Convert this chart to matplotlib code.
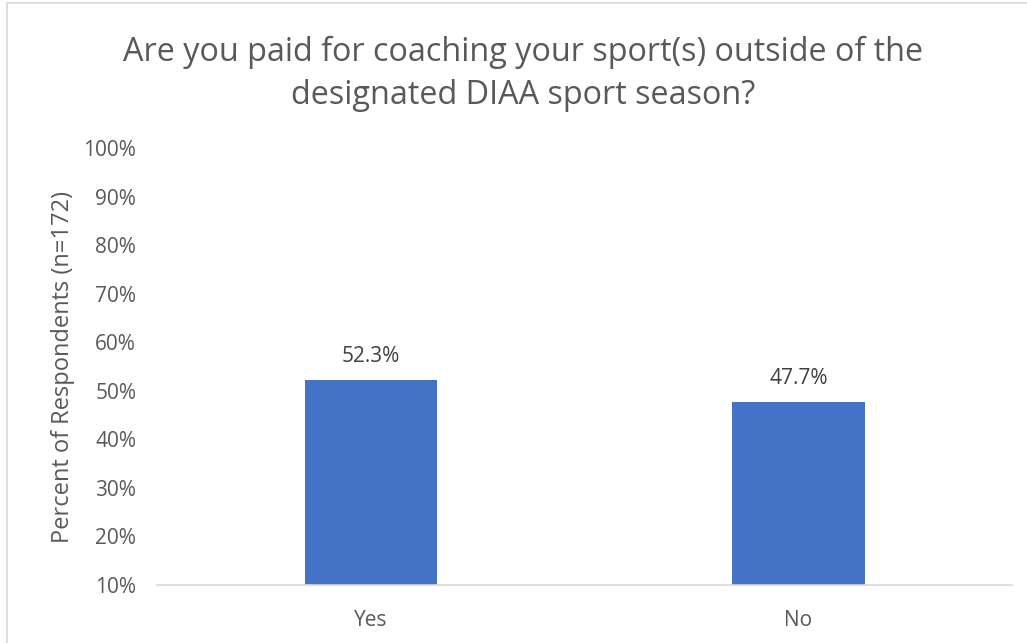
import matplotlib
matplotlib.use("Agg")
import matplotlib.pyplot as plt
from matplotlib.patches import Rectangle

###data###
categories = ["Yes", "No"]
percents = [52.3, 47.7]
yticks = [10, 20, 30, 40, 50, 60, 70, 80, 90, 100]
title = "Are you paid for coaching your sport(s) outside of the\ndesignated DIAA sport season?"
ylabel = "Percent of Respondents (n=172)"

plt.rcParams['font.family'] = ['Open Sans', 'DejaVu Sans']
grey = '#595959'

fig = plt.figure(figsize=(10.27, 6.43), dpi=100)
ax = fig.add_axes([0.1529, 0.0902, 0.8325, 0.6796])

x = range(len(categories))
ax.bar(x, percents, width=0.31, bottom=0, color='#4472C4', zorder=2)
for xi, v in zip(x, percents):
    ax.text(xi, v + 2.6, f"{v:.1f}%", ha='center', va='bottom', fontsize=15, color='#404040')

ax.set_xlim(-0.5, 1.5)
ax.set_ylim(10, 100)
ax.set_yticks(yticks)
ax.set_yticklabels([f"{t}%" for t in yticks])
ax.set_xticks(list(x))
ax.set_xticklabels(categories)
ax.tick_params(axis='both', length=0, labelsize=15, colors=grey)
ax.tick_params(axis='y', pad=15)
ax.tick_params(axis='x', pad=18)
for s in ['top', 'right', 'left']:
    ax.spines[s].set_visible(False)
ax.spines['bottom'].set_color('#D9D9D9')
ax.spines['bottom'].set_linewidth(1.2)

ax.set_ylabel(ylabel, fontsize=17, color=grey, labelpad=6)
fig.text(0.509, 0.885, title, ha='center', va='center', fontsize=23.3, color=grey, linespacing=1.42)

# chart border (left and top edges visible)
fig.patches.append(Rectangle((0.007, -0.05), 1.1, 1.0453, transform=fig.transFigure,
                             fill=False, edgecolor='#D9D9D9', linewidth=1.2))

fig.savefig("out.png", dpi=100)
